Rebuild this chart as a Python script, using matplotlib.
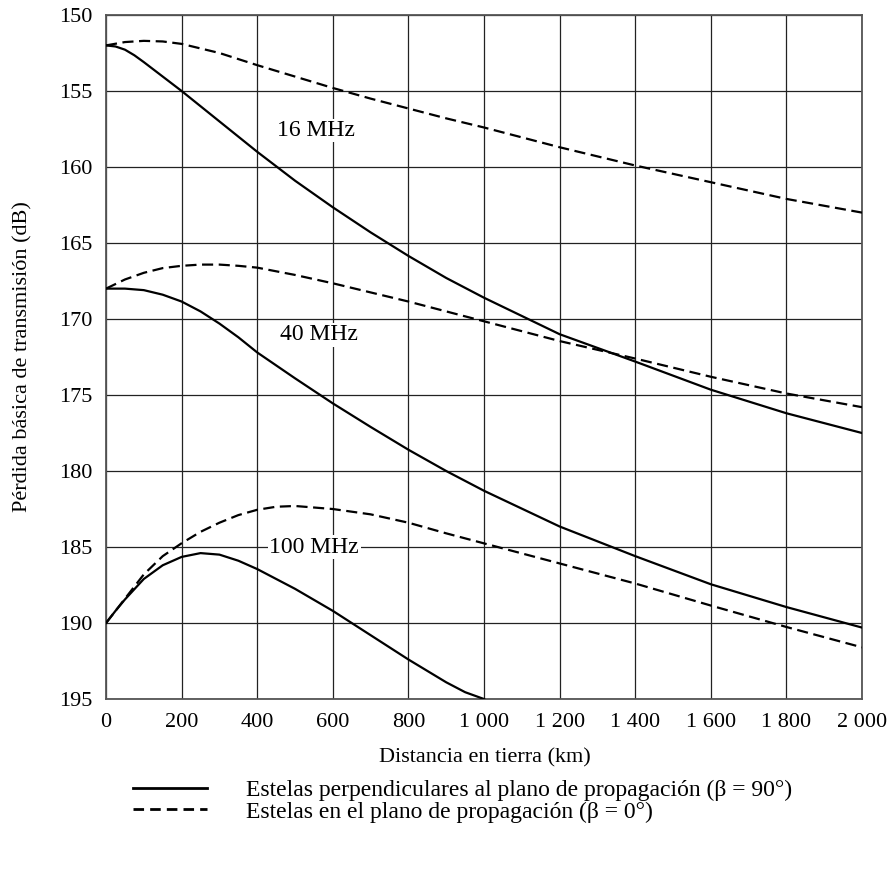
import matplotlib.pyplot as plt
from matplotlib.lines import Line2D

plt.rcParams['font.family'] = ['Liberation Serif', 'DejaVu Serif']

# distancias (km) y perdidas (dB)
d_16_perp = [0, 25, 50, 75, 100, 150, 200, 300, 400, 500, 600, 700, 800, 900, 1000, 1200, 1400, 1600, 1800, 2000]
L_16_perp = [152.0, 152.07, 152.28, 152.65, 153.1, 154.05, 155.0, 157.0, 159.0, 160.9, 162.65, 164.3, 165.85, 167.3, 168.6, 171.0, 172.8, 174.65, 176.2, 177.5]

d_16_plano = [0, 50, 100, 150, 200, 300, 400, 500, 600, 700, 800, 900, 1000, 1200, 1400, 1600, 1800, 2000]
L_16_plano = [152.0, 151.78, 151.7, 151.74, 151.9, 152.5, 153.3, 154.05, 154.8, 155.5, 156.15, 156.8, 157.4, 158.7, 159.9, 161.0, 162.1, 163.0]

d_40_perp = [0, 50, 100, 150, 200, 250, 300, 350, 400, 500, 600, 700, 800, 900, 1000, 1200, 1400, 1600, 1800, 2000]
L_40_perp = [168.0, 168.0, 168.1, 168.4, 168.85, 169.5, 170.3, 171.2, 172.2, 173.9, 175.55, 177.1, 178.6, 180.0, 181.3, 183.65, 185.6, 187.45, 188.95, 190.3]

d_40_plano = [0, 50, 100, 150, 200, 250, 300, 350, 400, 500, 600, 700, 800, 900, 1000, 1200, 1400, 1600, 1800, 2000]
L_40_plano = [168.0, 167.4, 166.96, 166.65, 166.5, 166.42, 166.42, 166.5, 166.62, 167.1, 167.65, 168.25, 168.85, 169.5, 170.15, 171.45, 172.6, 173.8, 174.9, 175.8]

d_100_perp = [0, 25, 50, 100, 150, 200, 250, 300, 350, 400, 500, 600, 700, 800, 900, 950, 1000]
L_100_perp = [190.0, 189.2, 188.45, 187.1, 186.2, 185.65, 185.4, 185.5, 185.9, 186.45, 187.75, 189.2, 190.8, 192.4, 193.9, 194.55, 195.0]

d_100_plano = [0, 25, 50, 100, 150, 200, 250, 300, 350, 400, 450, 500, 600, 700, 800, 900, 1000, 1200, 1400, 1600, 1800, 2000]
L_100_plano = [190.0, 189.2, 188.4, 186.8, 185.6, 184.75, 184.0, 183.4, 182.9, 182.55, 182.35, 182.3, 182.5, 182.85, 183.4, 184.1, 184.76, 186.08, 187.4, 188.85, 190.26, 191.6]

etiquetas = ['16 MHz', '40 MHz', '100 MHz']
etiq_x = [555, 563, 551]
etiq_y = [157.6, 171.05, 185.0]

xticks = list(range(0, 2001, 200))
xtick_labels = ['0', '200', '400', '600', '800', '1 000', '1 200', '1 400', '1 600', '1 800', '2 000']
yticks = list(range(150, 196, 5))

fig = plt.figure(figsize=(8.91, 8.88), dpi=100)
ax = fig.add_axes([0.119, 0.2128, 0.8485, 0.7703])

dash = (5, 2.5)
for d, L in [(d_16_perp, L_16_perp), (d_40_perp, L_40_perp), (d_100_perp, L_100_perp)]:
    ax.plot(d, L, color='black', lw=1.6, zorder=3, solid_joinstyle='round')
for d, L in [(d_16_plano, L_16_plano), (d_40_plano, L_40_plano), (d_100_plano, L_100_plano)]:
    ax.plot(d, L, color='black', lw=1.6, dashes=dash, zorder=3)

for t, x, y in zip(etiquetas, etiq_x, etiq_y):
    ax.text(x, y, t, fontsize=17, ha='center', va='center', zorder=4,
            bbox=dict(facecolor='white', edgecolor='none', pad=1))

ax.set_xlim(0, 2000)
ax.set_ylim(195, 150)
ax.set_xticks(xticks)
ax.set_xticklabels(xtick_labels)
ax.set_yticks(yticks)
ax.tick_params(length=0, labelsize=16, pad=10)
ax.grid(True, color='#222222', lw=0.9)
ax.set_axisbelow(True)
for s in ax.spines.values():
    s.set_color('#555555')
    s.set_linewidth(1.3)

ax.set_xlabel('Distancia en tierra (km)', fontsize=16)
ax.set_ylabel('Pérdida básica de transmisión (dB)', fontsize=16)
ax.xaxis.set_label_coords(0.501, -0.072)
ax.yaxis.set_label_coords(-0.097, 0.5)

handles = [Line2D([], [], color='black', lw=2.0),
           Line2D([], [], color='black', lw=2.0, dashes=(3.8, 2.2))]
fig.legend(handles,
           ['Estelas perpendiculares al plano de propagación (β = 90°)',
            'Estelas en el plano de propagación (β = 0°)'],
           loc='upper left', bbox_to_anchor=(0.149, 0.122), frameon=False,
           fontsize=17, handlelength=3.13, handletextpad=1.65,
           borderpad=0, borderaxespad=0, labelspacing=0.0)

fig.savefig('out.png', dpi=100)
